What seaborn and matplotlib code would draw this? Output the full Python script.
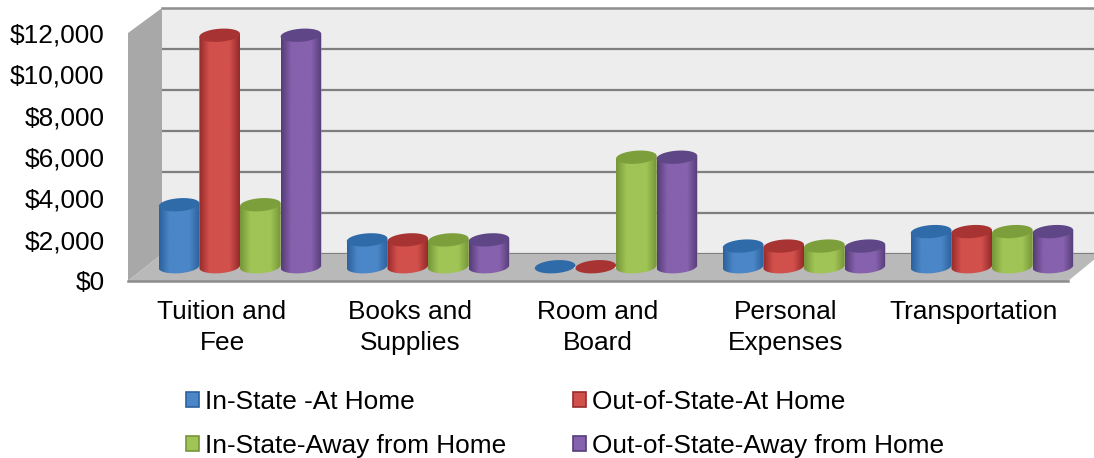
import numpy as np
import pandas as pd
import matplotlib
matplotlib.use("Agg")
import matplotlib.pyplot as plt
import seaborn as sns
from matplotlib.colors import LinearSegmentedColormap
from matplotlib.patches import Patch, PathPatch, Polygon
from matplotlib.path import Path
from matplotlib.transforms import Affine2D

categories = ["Tuition and\nFee", "Books and\nSupplies", "Room and\nBoard",
              "Personal\nExpenses", "Transportation"]
in_state_home = [3000, 1300, 0, 1000, 1700]
out_state_home = [11200, 1300, 0, 1000, 1700]
in_state_away = [3000, 1300, 5300, 1000, 1700]
out_state_away = [11200, 1300, 5300, 1000, 1700]
series_names = ["In-State -At Home", "Out-of-State-At Home",
                "In-State-Away from Home", "Out-of-State-Away from Home"]
y_ticks = [0, 2000, 4000, 6000, 8000, 10000, 12000]
y_labels = ["$0", "$2,000", "$4,000", "$6,000", "$8,000", "$10,000", "$12,000"]

W, H = 1094, 458
FONT = 18.9

# dark edge, body, cap colour for each series
shades = [("#2c619c", "#4a86c8", "#2f6ba8"),
          ("#962b2b", "#d2504c", "#a83333"),
          ("#76963a", "#a0c455", "#7c9f3b"),
          ("#553d78", "#8661ad", "#5f4686")]

sns.set_theme(style="white")
plt.rcParams["font.family"] = ["Liberation Sans", "DejaVu Sans"]

df = pd.DataFrame({"cat": categories, series_names[0]: in_state_home,
                   series_names[1]: out_state_home, series_names[2]: in_state_away,
                   series_names[3]: out_state_away})
df = df.melt(id_vars="cat", var_name="series", value_name="cost")

fig = plt.figure(figsize=(W / 100, H / 100), dpi=100, facecolor="white")


def px_axes(left, top, right, bottom, z):
    a = fig.add_axes([left / W, 1 - bottom / H, (right - left) / W, (bottom - top) / H])
    a.set_zorder(z)
    return a


# pixel coords, origin top left, for the box walls
px = Affine2D().scale(1 / W, -1 / H).translate(0, 1) + fig.transFigure

#%% back wall, its gridlines come from the same scale
back = px_axes(162, 8, 1101, 254, 1)
back.set_facecolor("#ededed")
back.set_ylim(0, 12000)
back.set_yticks(y_ticks)
back.set_xticks([])
back.tick_params(left=False, labelleft=False)
back.grid(axis="y", color="#7f7f7f", lw=1.6)
for name, sp in back.spines.items():
    sp.set_visible(name == "top")
    sp.set_color("#8f8f8f")
    sp.set_linewidth(1.8)

fig.add_artist(Polygon([(128, 281), (162, 254), (162, 8), (128, 33)], closed=True,
                       transform=px, fc="#a8a8a8", ec="none", zorder=2))
fig.add_artist(Polygon([(128, 281), (1068, 281), (1101, 254), (162, 254)], closed=True,
                       transform=px, fc="#b9b9b9", ec="none", zorder=2))

#%% front plane holds the tick labels
front = px_axes(128, 33, 1068, 281, 3)
front.patch.set_alpha(0)
front.set_xlim(-0.5, 4.5)
front.set_ylim(0, 12000)
front.set_yticks(y_ticks, y_labels, fontsize=FONT, color="black")
front.set_xticks(range(5), categories, fontsize=FONT, color="black", linespacing=1.36)
front.tick_params(axis="y", length=0, pad=17)
front.tick_params(axis="x", length=0, pad=14)
for name, sp in front.spines.items():
    sp.set_visible(name == "bottom")
    sp.set_color("#8c8c8c")
    sp.set_linewidth(1.8)

#%% bars stand half way into the box, axes run a bit below zero for the round bases
ax = px_axes(146, 18.7, 1086, 287.4, 4)
sns.barplot(data=df, x="cat", y="cost", hue="series", hue_order=series_names,
            order=categories, palette=[s[1] for s in shades], width=0.864, gap=0,
            errorbar=None, legend=False, ax=ax)
ax.axis("off")

cap_h = 6.5 * 12000 / 248  # ellipse half height in data units
tilt = 0.07 * (12000 / 248) * (940 / 5)  # rise across one x unit

for i, bar in enumerate(ax.patches):
    dark, body, cap = shades[i // 5]
    x0 = bar.get_x()
    w = bar.get_width()
    h = bar.get_height()
    cx = x0 + w / 2
    t = np.linspace(np.pi, 2 * np.pi, 40)
    ex = cx + w / 2 * np.cos(t)
    ey = cap_h * np.sin(t) + tilt * (ex - cx)
    z = 5 + i % 5 * 0.1 + (i // 5) * 0.2

    if h > 0:
        outline = np.column_stack([np.r_[ex, ex[-1], ex[0]],
                                   np.r_[ey, h + tilt * w / 2, h - tilt * w / 2]])
        body_path = PathPatch(Path(outline), transform=ax.transData, fc="none", ec="none")
        ax.add_patch(body_path)
        cmap = LinearSegmentedColormap.from_list("c", [dark, body, body, body, dark])
        img = ax.imshow(np.linspace(0, 1, 64)[None, :], cmap=cmap, aspect="auto",
                        extent=[x0, x0 + w, -cap_h * 2, h + cap_h * 2], zorder=z)
        img.set_clip_path(body_path)
        bar.set_clip_path(body_path)

    # top surface, a flat disc for the zero bars
    t = np.linspace(0, 2 * np.pi, 80)
    ex = cx + w / 2 * np.cos(t)
    ey = h + cap_h * np.sin(t) + tilt * (ex - cx)
    ax.add_patch(Polygon(np.column_stack([ex, ey]), closed=True, fc=cap, ec="none",
                         clip_on=False, zorder=z + 0.01))

ax.set_xlim(-0.5, 4.5)
ax.set_ylim(-1000, 12000)

#%% legend, filled column first so reorder
handles = [Patch(fc=shades[j][1], ec=shades[j][0], lw=1.2, label=series_names[j])
           for j in [0, 2, 1, 3]]
fig.legend(handles=handles, ncol=2, frameon=False, fontsize=FONT, labelcolor="black",
           loc="upper left", bbox_to_anchor=(186 / W, 1 - 390 / H),
           borderpad=0, borderaxespad=0, handlelength=0.48, handleheight=0.48,
           handletextpad=0.24, columnspacing=2.55, labelspacing=0.75)

fig.savefig("out.png", dpi=100)
